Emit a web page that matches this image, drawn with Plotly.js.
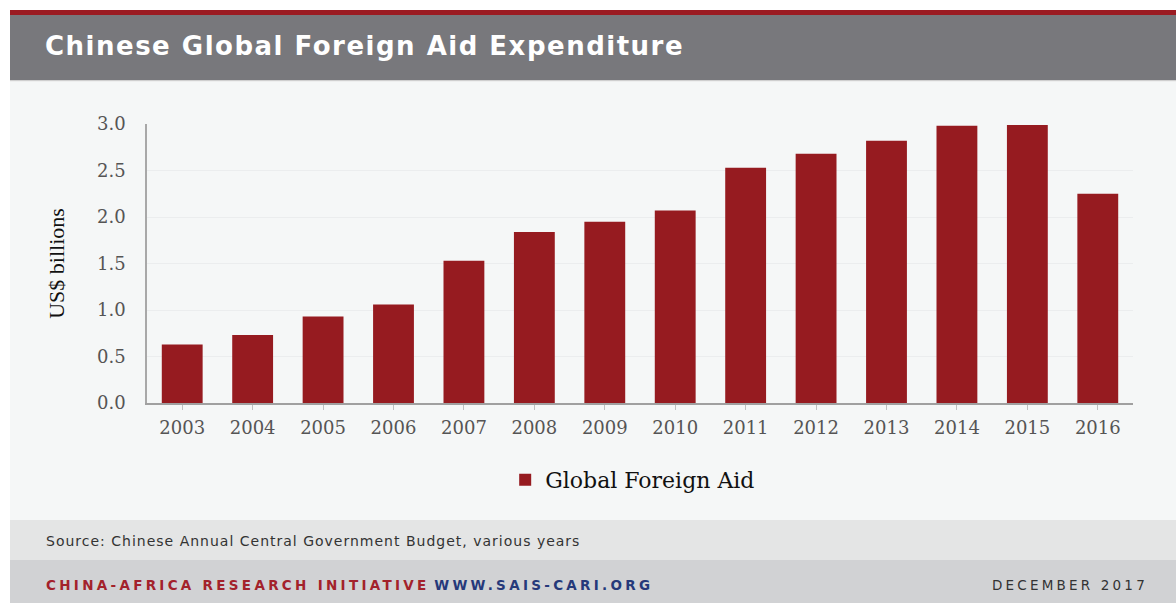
<!DOCTYPE html>
<html>
<head>
<meta charset="utf-8">
<script src="https://cdn.plot.ly/plotly-3.0.1.min.js"></script>
<style>html,body{margin:0;padding:0;background:#fff;}#chart{width:1176px;height:603px;}</style>
</head>
<body>
<div id="chart"></div>
<script>
var years = ["2003","2004","2005","2006","2007","2008","2009","2010","2011","2012","2013","2014","2015","2016"];
var aidValues = [0.63, 0.73, 0.93, 1.06, 1.53, 1.84, 1.95, 2.07, 2.53, 2.68, 2.82, 2.98, 2.99, 2.25];
var yTickVals = [0, 0.5, 1.0, 1.5, 2.0, 2.5, 3.0];
var seriesName = "Global Foreign Aid";
var titleText = "Chinese Global Foreign Aid Expenditure";
var yTitleText = "US$ billions";
var sourceText = "Source: Chinese Annual Central Government Budget, various years";
var orgText = "CHINA-AFRICA RESEARCH INITIATIVE";
var urlText = "WWW.SAIS-CARI.ORG";
var dateText = "DECEMBER 2017";

var W = 1176, H = 603;
function px(x){ return x / W; }
function py(y){ return 1 - y / H; }

var trace = {
  type: "bar",
  x: years,
  y: aidValues,
  name: seriesName,
  marker: {color: "#961b20", line: {width: 0}},
  showlegend: true
};

function band(y0, y1, color){
  return {type:"rect", xref:"paper", yref:"paper", x0:px(10), x1:1, y0:py(y1), y1:py(y0),
          fillcolor:color, line:{width:0}, layer:"below"};
}

var layout = {
  width: W, height: H,
  margin: {l:0, r:0, t:0, b:0},
  paper_bgcolor: "#ffffff",
  plot_bgcolor: "rgba(0,0,0,0)",
  title: {
    text: '<span style="letter-spacing:1.5px">' + titleText + '</span>',
    x: px(45), xanchor: "left", xref: "container",
    y: py(46), yanchor: "middle", yref: "container",
    font: {family: "DejaVu Sans", size: 26, color: "#ffffff", weight: "bold"}
  },
  shapes: [
    band(10, 15, "#9b1b22"),
    band(15, 80, "#78787c"),
    band(80, 81.5, "#cfcfcf"),
    band(81.5, 520, "#f5f7f7"),
    band(520, 560, "#e4e5e5"),
    band(560, 603, "#d1d2d4")
  ],
  xaxis: {
    type: "category",
    domain: [px(147), px(1133)],
    showline: true, linecolor: "#a0a0a0", linewidth: 1.5,
    ticks: "outside", ticklen: 5, tickcolor: "#c0c0c0", tickwidth: 1,
    ticklabelstandoff: 3,
    tickfont: {family: "DejaVu Serif", size: 18, color: "#555555"},
    showgrid: false, zeroline: false, fixedrange: true
  },
  yaxis: {
    domain: [py(403), py(124)],
    range: [0, 3.0],
    tickvals: yTickVals,
    tickformat: ".1f",
    ticks: "", ticklabelstandoff: 16,
    tickfont: {family: "DejaVu Serif", size: 18, color: "#555555"},
    showline: true, linecolor: "#a8a8a8", linewidth: 1.5,
    showgrid: true, gridcolor: "#ebedee", gridwidth: 1,
    zeroline: false, fixedrange: true,
    title: {text: yTitleText, standoff: 26,
            font: {family: "Liberation Serif", size: 22, color: "#111111"}}
  },
  bargap: 0.42,
  legend: {
    orientation: "h",
    x: 0.538, xanchor: "center",
    y: py(480), yanchor: "middle",
    font: {family: "DejaVu Serif", size: 22, color: "#111111"},
    bgcolor: "rgba(0,0,0,0)"
  },
  annotations: [
    {xref:"paper", yref:"paper", x:px(44), y:py(541), xanchor:"left", yanchor:"middle",
     showarrow:false, text: '<span style="letter-spacing:1px">' + sourceText + '</span>',
     font:{family:"DejaVu Sans", size:14, color:"#333333"}},
    {xref:"paper", yref:"paper", x:px(44), y:py(585), xanchor:"left", yanchor:"middle",
     showarrow:false,
     text: '<span style="color:#a3222b;letter-spacing:3.3px">' + orgText + '</span> <span style="color:#25397a;letter-spacing:3.3px">' + urlText + '</span>',
     font:{family:"DejaVu Sans", size:13.5, color:"#a3222b", weight:"bold"}},
    {xref:"paper", yref:"paper", x:px(1150), y:py(585), xanchor:"right", yanchor:"middle",
     showarrow:false,
     text: '<span style="letter-spacing:3.2px">' + dateText + '</span>',
     font:{family:"DejaVu Sans", size:13.5, color:"#333333"}}
  ],
  hovermode: false
};

Plotly.newPlot("chart", [trace], layout, {displayModeBar:false, responsive:false});
</script>
</body>
</html>
